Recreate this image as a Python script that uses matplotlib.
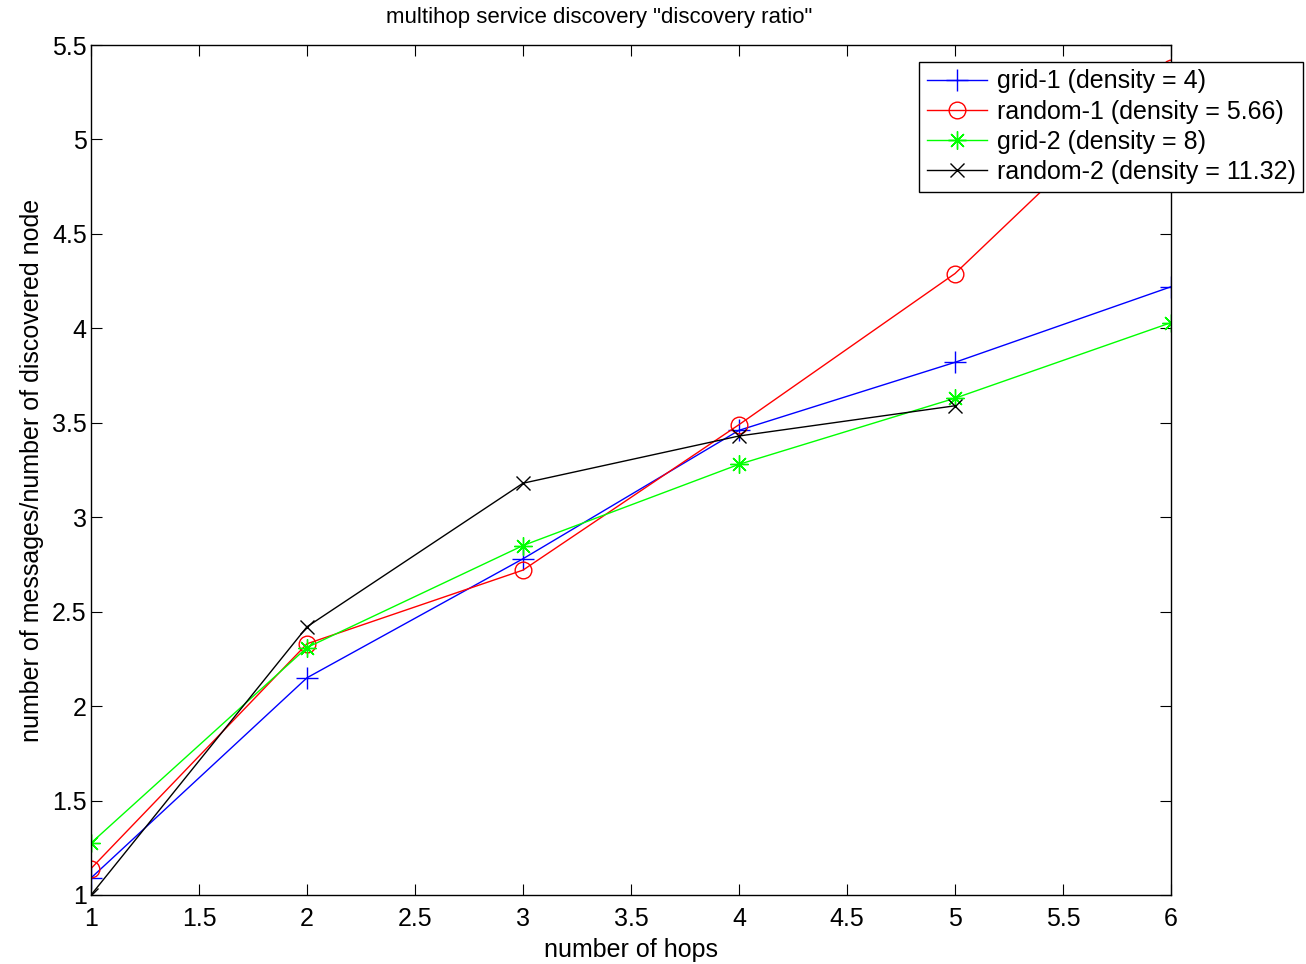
import matplotlib
matplotlib.use("Agg")
import matplotlib.pyplot as plt

hops = [1, 2, 3, 4, 5, 6]
grid1 = [1.09, 2.15, 2.78, 3.46, 3.82, 4.22]
random1 = [1.14, 2.33, 2.72, 3.49, 4.29, 5.38]
grid2 = [1.275, 2.31, 2.85, 3.28, 3.63, 4.03]
hops_r2 = [1, 2, 3, 4, 5]
random2 = [1.0, 2.42, 3.18, 3.43, 3.59]

xticks = [1, 1.5, 2, 2.5, 3, 3.5, 4, 4.5, 5, 5.5, 6]
yticks = [1, 1.5, 2, 2.5, 3, 3.5, 4, 4.5, 5, 5.5]

plt.rcParams['font.family'] = ['Liberation Sans', 'DejaVu Sans']

fig = plt.figure(figsize=(13.06, 9.64), dpi=100)
ax = fig.add_axes([0.0697, 0.0716, 0.8269, 0.8817])

ax.plot(hops, grid1, color='#0000ff', marker='+', markersize=16, mew=1, lw=1, label='grid-1 (density = 4)')
ax.plot(hops, random1, color='#ff0000', marker='o', markersize=12, mfc='none', mew=1, lw=1, label='random-1 (density = 5.66)')
ax.plot(hops, grid2, color='#00ff00', marker=(8, 2, 0), markersize=13, mew=1, lw=1, label='grid-2 (density = 8)')
ax.plot(hops_r2, random2, color='#000000', marker='x', markersize=10, mew=1, lw=1, label='random-2 (density = 11.32)')

ax.set_xlim(1, 6)
ax.set_ylim(1, 5.5)
ax.set_xticks(xticks)
ax.set_xticklabels([f"{v:g}" for v in xticks])
ax.set_yticks(yticks)
ax.set_yticklabels([f"{v:g}" for v in yticks])
ax.tick_params(direction='in', top=True, right=True, length=8, labelsize=18, pad=3)
ax.tick_params(axis='x', pad=9)
for s in ax.spines.values():
    s.set_linewidth(1)

ax.set_xlabel('number of hops', fontsize=18, labelpad=5)
ax.set_ylabel('number of messages/number of discovered node', fontsize=18, labelpad=6)
ax.set_title('multihop service discovery "discovery ratio"', fontsize=16, pad=16, x=0.471)

leg = fig.legend(loc='upper right', bbox_to_anchor=(0.9977, 0.9357), fontsize=18,
                 fancybox=False, edgecolor='black', framealpha=1, borderpad=0.3,
                 labelspacing=0.25, handlelength=2.4, handletextpad=0.4, borderaxespad=0)
leg.get_frame().set_linewidth(1)

fig.savefig('out.png', dpi=100)
